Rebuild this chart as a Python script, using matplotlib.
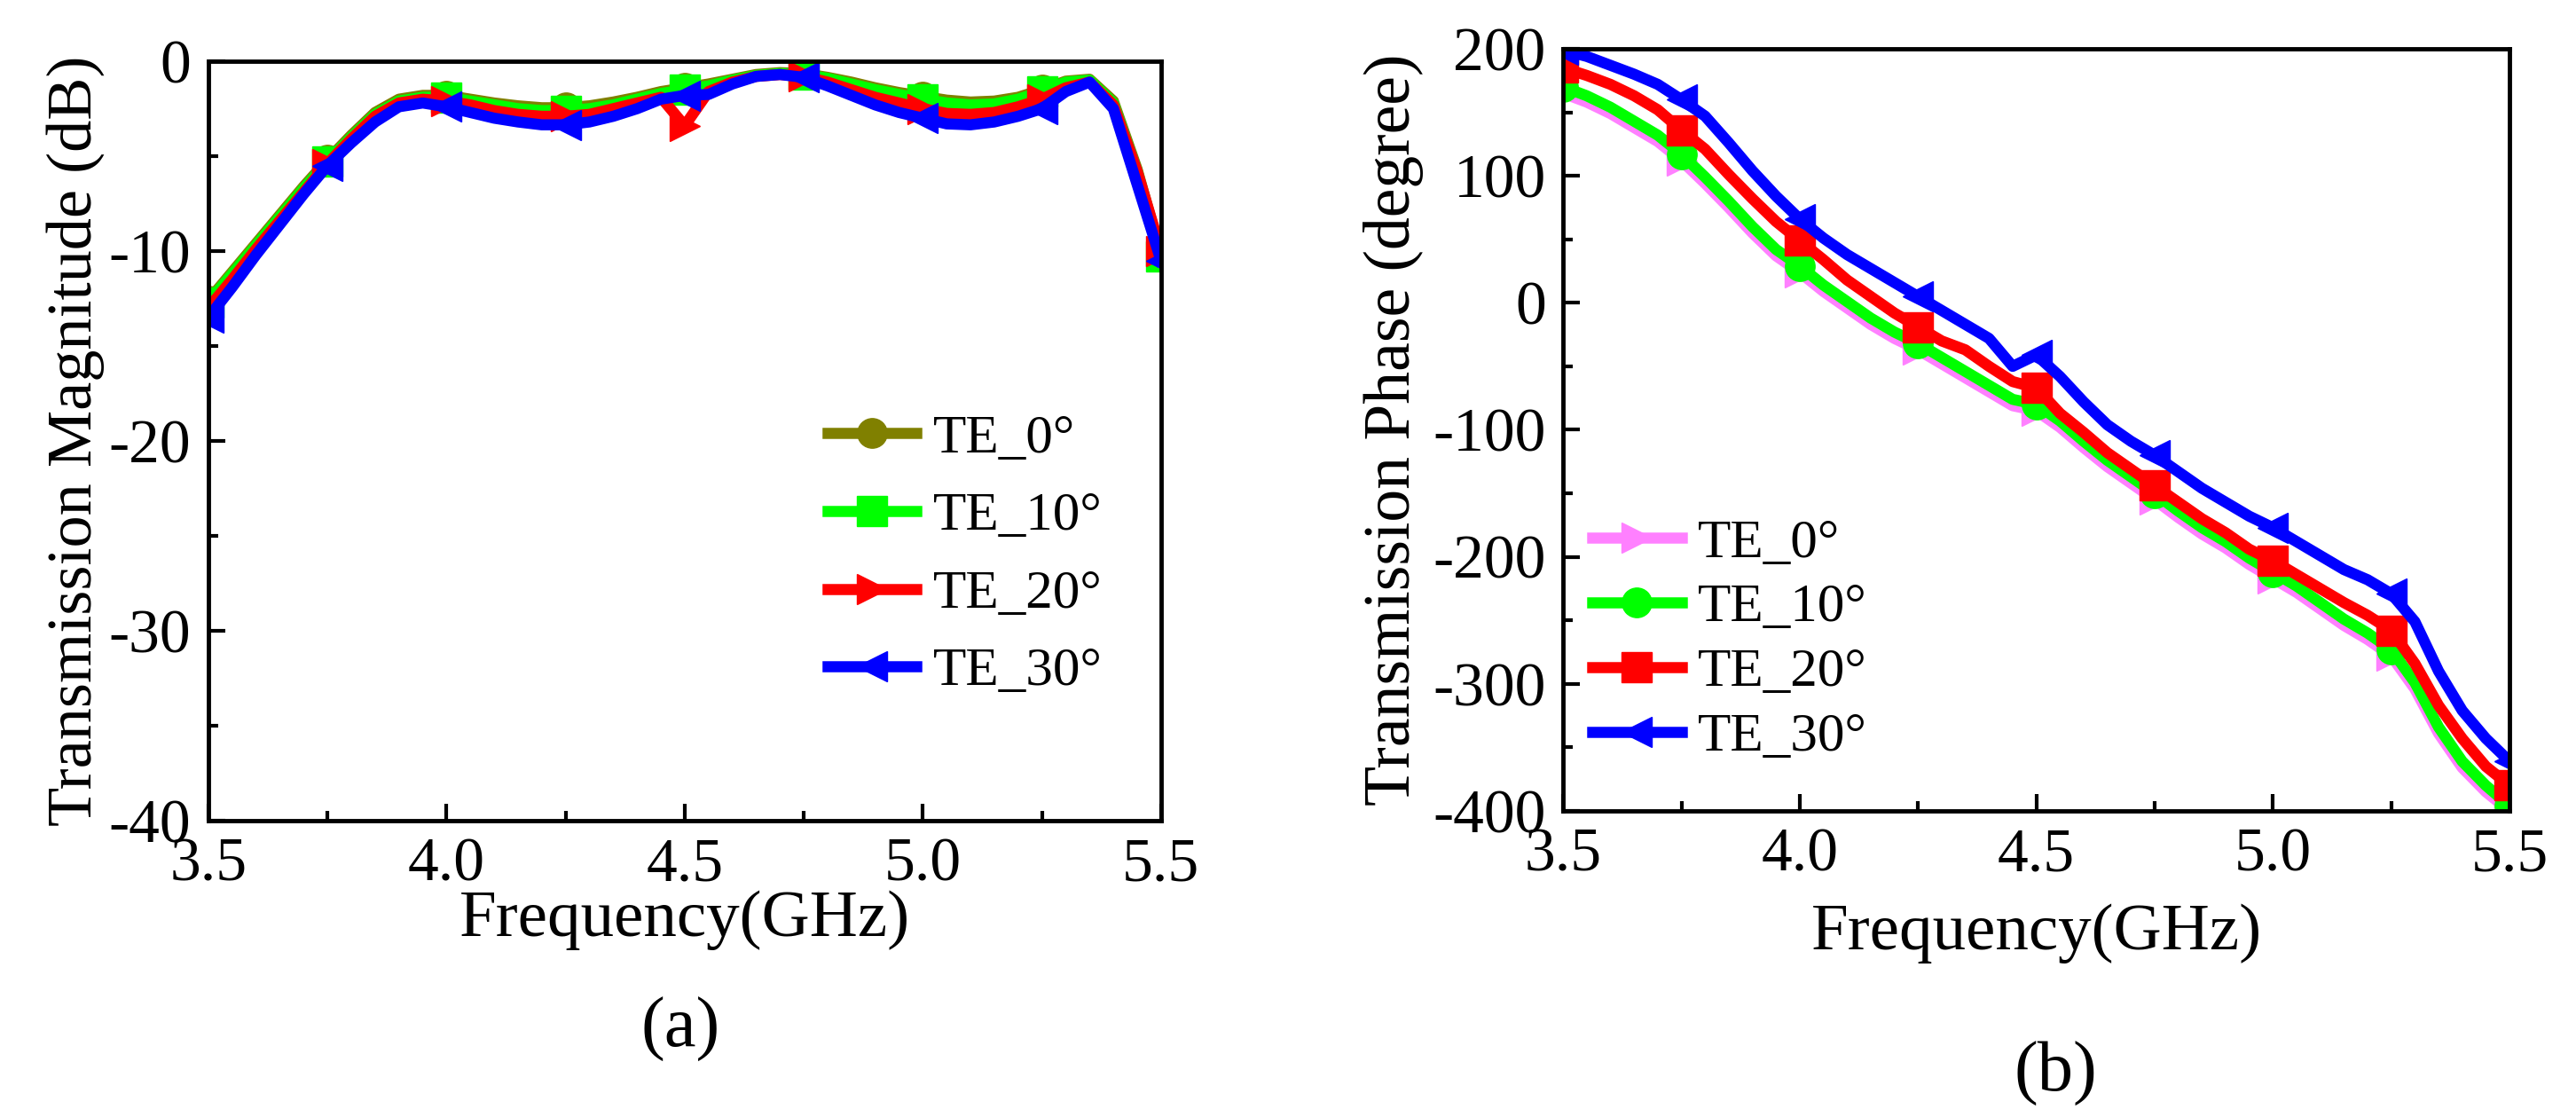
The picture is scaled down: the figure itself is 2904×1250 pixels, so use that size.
import numpy as np
import matplotlib
matplotlib.use("Agg")
import matplotlib.pyplot as plt
from matplotlib.ticker import MultipleLocator, FormatStrFormatter

plt.rcParams['font.family'] = ['Liberation Serif', 'DejaVu Serif']
plt.rcParams['axes.unicode_minus'] = False

"""
Data read off the picture
"""

freq = np.round(np.arange(3.5, 5.5001, 0.05), 2)

labels = ['TE_0°', 'TE_10°', 'TE_20°', 'TE_30°']

# (a) transmission magnitude, dB
mag_te0 = [-12.6, -11.1, -9.6, -8.1, -6.6, -5.2, -3.9, -2.7, -2.0, -1.8,
           -1.8, -2.0, -2.2, -2.35, -2.45, -2.45, -2.35, -2.15, -1.9, -1.6,
           -1.4, -1.2, -0.95, -0.7, -0.6, -0.65, -0.85, -1.1, -1.4, -1.65,
           -1.85, -2.05, -2.15, -2.1, -1.9, -1.5, -1.05, -0.95, -2.1, -5.7,
           -10.2]
mag_te10 = [-12.7, -11.2, -9.7, -8.2, -6.7, -5.3, -4.0, -2.8, -2.1, -1.9,
            -1.9, -2.1, -2.3, -2.5, -2.6, -2.6, -2.5, -2.3, -2.0, -1.7,
            -1.5, -1.3, -1.0, -0.75, -0.65, -0.7, -0.9, -1.2, -1.5, -1.75,
            -2.0, -2.2, -2.3, -2.25, -2.0, -1.6, -1.1, -1.0, -2.2, -5.8,
            -10.3]
mag_te20 = [-13.0, -11.5, -9.9, -8.4, -6.9, -5.4, -4.1, -2.9, -2.2, -2.0,
            -2.1, -2.3, -2.6, -2.8, -2.9, -2.9, -2.8, -2.5, -2.2, -1.9,
            -3.4, -1.6, -1.1, -0.8, -0.7, -0.8, -1.1, -1.5, -1.9, -2.2,
            -2.5, -2.75, -2.8, -2.7, -2.4, -2.0, -1.4, -1.1, -2.3, -5.8,
            -10.0]
mag_te30 = [-13.5, -11.9, -10.2, -8.6, -7.0, -5.5, -4.3, -3.2, -2.4, -2.2,
            -2.4, -2.7, -3.0, -3.2, -3.35, -3.35, -3.2, -2.9, -2.5, -2.0,
            -1.8, -1.75, -1.2, -0.8, -0.7, -0.85, -1.3, -1.8, -2.3, -2.7,
            -3.0, -3.3, -3.35, -3.2, -2.9, -2.5, -1.6, -1.1, -2.5, -6.5,
            -10.5]

# (b) transmission phase, degree
ph_te0 = [165, 158, 149, 138, 127, 112, 94, 75, 55, 37,
          24, 9, -4, -17, -28, -37, -48, -59, -70, -81,
          -85, -98, -114, -129, -142, -155, -169, -182, -193, -206,
          -217, -228, -241, -254, -265, -278, -304, -339, -366, -385,
          -400]
ph_te10 = [170, 163, 154, 143, 132, 117, 99, 80, 60, 42,
           29, 14, 1, -12, -23, -32, -43, -54, -65, -76,
           -80, -93, -109, -124, -137, -150, -164, -177, -188, -201,
           -212, -223, -236, -249, -260, -273, -299, -334, -361, -380,
           -396]
ph_te20 = [185, 179, 172, 163, 152, 136, 121, 101, 82, 64,
           49, 34, 18, 5, -8, -19, -30, -37, -50, -62,
           -67, -87, -102, -118, -131, -144, -157, -170, -181, -194,
           -203, -214, -225, -236, -246, -258, -284, -317, -343, -365,
           -380]
ph_te30 = [199, 194, 187, 180, 172, 160, 147, 126, 104, 84,
           66, 51, 38, 27, 16, 5, -6, -17, -28, -50,
           -41, -58, -78, -96, -109, -120, -133, -146, -157, -168,
           -177, -188, -199, -210, -218, -229, -251, -290, -321, -343,
           -361]

colors_a = ['#808000', '#00FF00', '#FF0000', '#0000FF']
markers_a = ['o', 's', '>', '<']
colors_b = ['#FF80FF', '#00FF00', '#FF0000', '#0000FF']
markers_b = ['>', 'o', 's', '<']


def style_axes(ax):
    for sp in ax.spines.values():
        sp.set_linewidth(3.5)
    ax.tick_params(which='both', direction='in', top=False, right=False,
                   labelsize=50, width=3)
    ax.tick_params(which='major', length=14)
    ax.tick_params(which='minor', length=8)
    ax.tick_params(axis='x', pad=14)
    ax.tick_params(axis='y', pad=14)


fig = plt.figure(figsize=(29.04, 12.5), dpi=100)

# ---- (a) magnitude
ax1 = fig.add_axes([0.0809, 0.26, 0.3698, 0.6848])
for y, c, m, lab in zip([mag_te0, mag_te10, mag_te20, mag_te30], colors_a, markers_a, labels):
    ax1.plot(freq, y, color=c, lw=9, marker=m, markersize=24, markevery=5, label=lab)
ax1.set_xlim(3.5, 5.5)
ax1.set_ylim(-40, 0)
ax1.xaxis.set_major_locator(MultipleLocator(0.5))
ax1.xaxis.set_minor_locator(MultipleLocator(0.25))
ax1.xaxis.set_major_formatter(FormatStrFormatter('%.1f'))
ax1.yaxis.set_major_locator(MultipleLocator(10))
ax1.yaxis.set_minor_locator(MultipleLocator(5))
style_axes(ax1)
ax1.set_xlabel('Frequency(GHz)', fontsize=54)
ax1.xaxis.set_label_coords(0.5, -0.092)
ax1.set_ylabel('Transmission Magnitude (dB)', fontsize=52)
ax1.yaxis.set_label_coords(-0.109, 0.5)
ax1.legend(loc='center', bbox_to_anchor=(0.794, 0.349), frameon=False,
           fontsize=44, handlelength=1.65, labelspacing=0.52, handletextpad=0.3)

# ---- (b) phase
ax2 = fig.add_axes([0.6068, 0.2688, 0.3674, 0.6872])
for y, c, m, lab in zip([ph_te0, ph_te10, ph_te20, ph_te30], colors_b, markers_b, labels):
    ax2.plot(freq, y, color=c, lw=9, marker=m, markersize=24, markevery=5, label=lab)
ax2.set_xlim(3.5, 5.5)
ax2.set_ylim(-400, 200)
ax2.xaxis.set_major_locator(MultipleLocator(0.5))
ax2.xaxis.set_minor_locator(MultipleLocator(0.25))
ax2.xaxis.set_major_formatter(FormatStrFormatter('%.1f'))
ax2.yaxis.set_major_locator(MultipleLocator(100))
ax2.yaxis.set_minor_locator(MultipleLocator(50))
style_axes(ax2)
ax2.set_xlabel('Frequency(GHz)', fontsize=54)
ax2.xaxis.set_label_coords(0.5, -0.122)
ax2.set_ylabel('Transmission Phase (degree)', fontsize=53)
ax2.yaxis.set_label_coords(-0.147, 0.5)
ax2.legend(loc='center', bbox_to_anchor=(0.176, 0.2235), frameon=False,
           fontsize=44, handlelength=1.65, labelspacing=0.28, handletextpad=0.3)

fig.text(0.264, 0.072, '(a)', fontsize=58, ha='center', va='center')
fig.text(0.798, 0.032, '(b)', fontsize=58, ha='center', va='center')

fig.savefig('out.png', dpi=100)
